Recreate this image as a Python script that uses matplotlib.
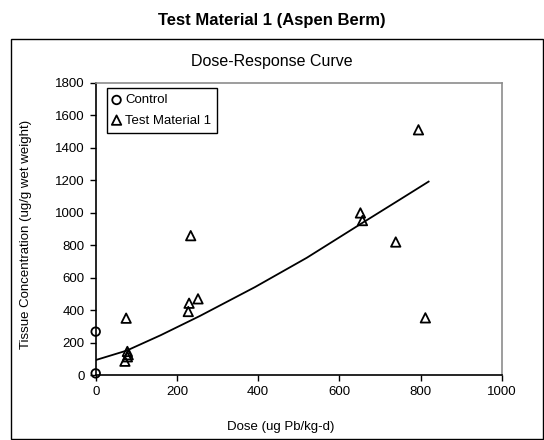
import matplotlib
matplotlib.use("Agg")
import matplotlib.pyplot as plt
from matplotlib.patches import Rectangle

plt.rcParams['font.family'] = ['Liberation Sans', 'DejaVu Sans']

# Data
control_dose = [0, 0]
control_conc = [267, 10]

test_dose = [75, 72, 78, 80, 78, 230, 228, 252, 234, 652, 657, 739, 795, 812]
test_conc = [350, 85, 112, 125, 145, 442, 391, 469, 858, 998, 951, 819, 1510, 352]

# Trend curve
curve_dose = [0, 76, 160, 257, 392, 520, 650, 749, 820]
curve_conc = [92, 150, 245, 364, 541, 722, 926, 1080, 1191]

x_ticks = [0, 200, 400, 600, 800, 1000]
y_ticks = [0, 200, 400, 600, 800, 1000, 1200, 1400, 1600, 1800]

W, H = 544, 440
fig = plt.figure(figsize=(W / 100, H / 100), dpi=100)

# outer chart border
fig.patches.append(Rectangle((11 / W, 1 - 439 / H), (543 - 11) / W, (439 - 39) / H,
                             transform=fig.transFigure, fill=False,
                             edgecolor='black', linewidth=1.0))

ax = fig.add_axes([95.7 / W, 1 - 375 / H, (501.7 - 95.7) / W, (375 - 82.7) / H])

ax.plot(curve_dose, curve_conc, color='black', linewidth=1.3, zorder=2)
ax.scatter(control_dose, control_conc, marker='o', s=38, facecolors='none',
           edgecolors='black', linewidths=1.3, label='Control', zorder=3, clip_on=False)
ax.scatter(test_dose, test_conc, marker='^', s=46, facecolors='none',
           edgecolors='black', linewidths=1.3, label='Test Material 1', zorder=3, clip_on=False)

ax.set_xlim(0, 1000)
ax.set_ylim(0, 1800)
ax.set_xticks(x_ticks)
ax.set_yticks(y_ticks)
ax.tick_params(axis='both', direction='out', length=4, width=1, labelsize=9.5, pad=4)

for s in ['top', 'right']:
    ax.spines[s].set_color('#8c8c8c')
    ax.spines[s].set_linewidth(1.2)
for s in ['left', 'bottom']:
    ax.spines[s].set_color('black')
    ax.spines[s].set_linewidth(1.2)

ax.set_xlabel('Dose (ug Pb/kg-d)', fontsize=9.5)
ax.set_ylabel('Tissue Concentration (ug/g wet weight)', fontsize=9.5)
ax.xaxis.set_label_coords(0.456, -0.157)
ax.yaxis.set_label_coords(-0.157, 0.48)

leg = ax.legend(loc='upper left', bbox_to_anchor=(0.027, 0.981), fontsize=9.5,
                frameon=True, fancybox=False, framealpha=1, edgecolor='black',
                handlelength=0.6, handletextpad=0.35, borderpad=0.45,
                labelspacing=0.6, borderaxespad=0)
leg.get_frame().set_linewidth(1.0)

fig.text(272 / W, 1 - 20 / H, 'Test Material 1 (Aspen Berm)', fontsize=12,
         fontweight='bold', ha='center', va='center')
fig.text(272 / W, 1 - 61.7 / H, 'Dose-Response Curve', fontsize=11.5,
         ha='center', va='center')

fig.savefig('out.png', dpi=100)
